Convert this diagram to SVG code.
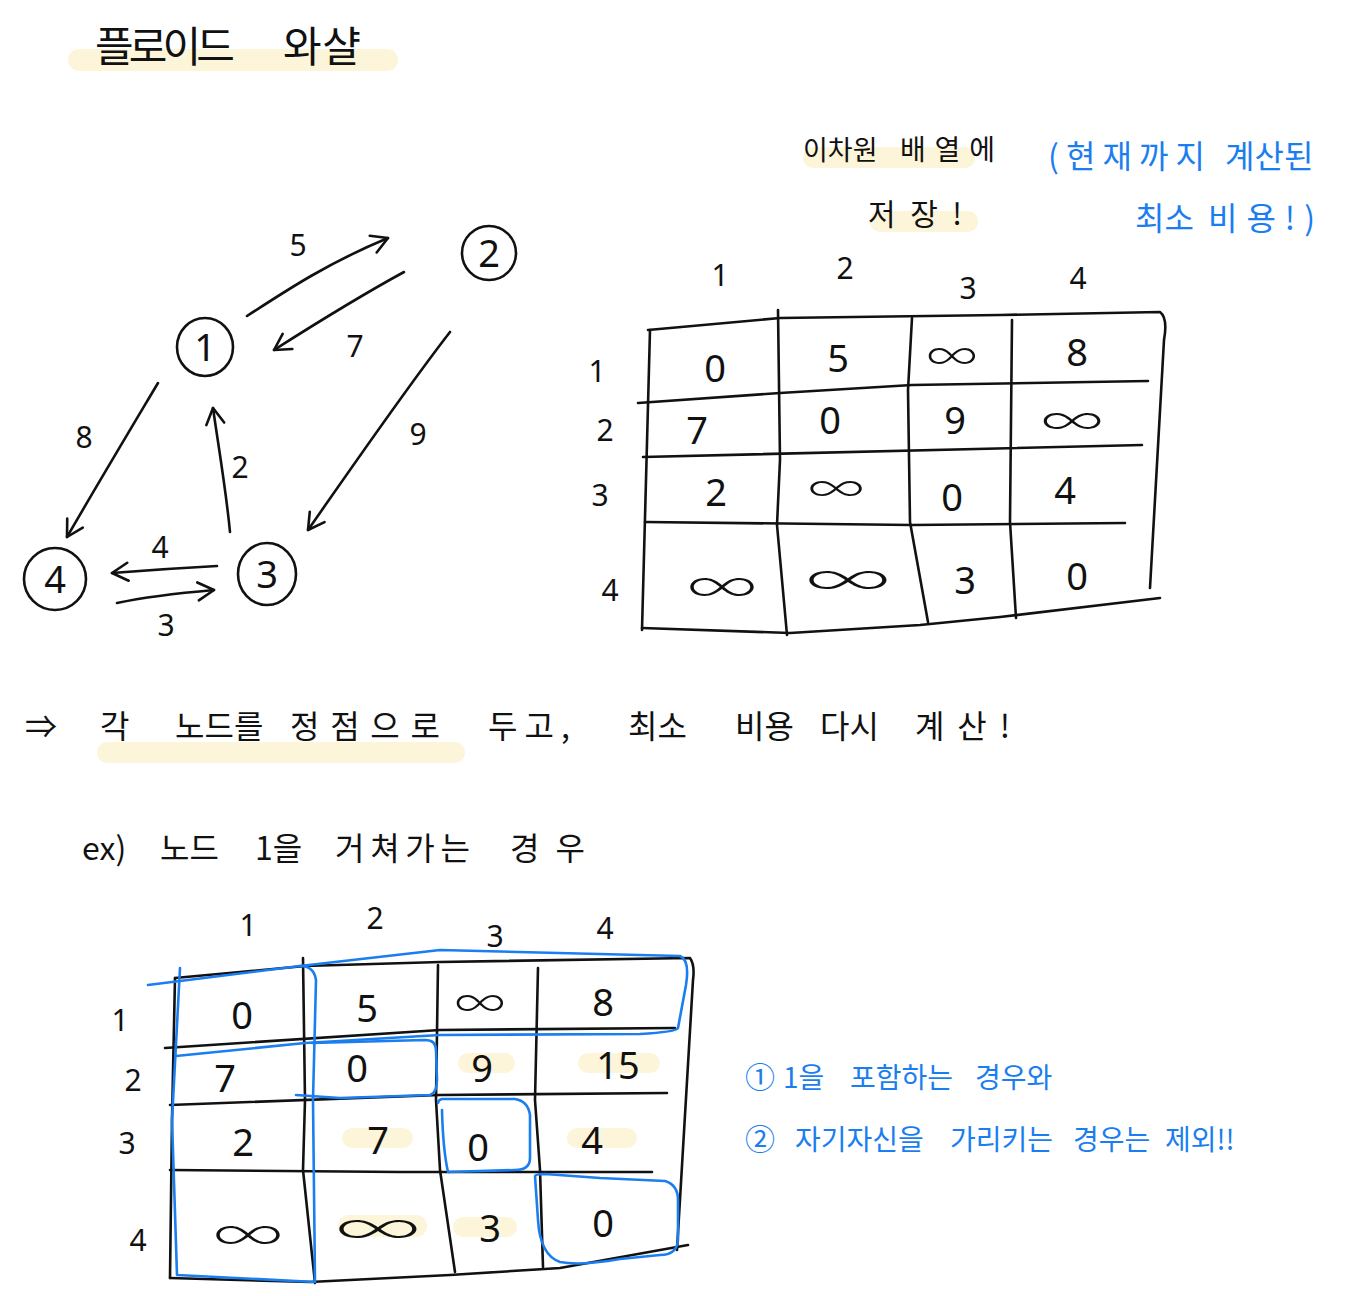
<svg xmlns="http://www.w3.org/2000/svg" width="1353" height="1296" viewBox="0 0 1353 1296">
<style>
.ink{fill:none;stroke:#111;stroke-width:2.6;stroke-linecap:round;stroke-linejoin:round}
.blue{fill:none;stroke:#1a7ef0;stroke-width:2.6;stroke-linecap:round;stroke-linejoin:round}
.hl{fill:#fdf5d9}
.kr{font-family:"Noto Sans CJK KR","Noto Sans",sans-serif;fill:#111}
.kb{font-family:"Noto Sans CJK KR","Noto Sans",sans-serif;fill:#1a7ef0}
.num{font-family:"Noto Sans","Liberation Sans",sans-serif;fill:#111;font-size:38px;text-anchor:middle}
.inf{font-family:"Inter","Noto Sans",sans-serif;font-weight:200;fill:#111;font-size:44px;text-anchor:middle}
.lab{font-family:"Noto Sans","Liberation Sans",sans-serif;fill:#111;font-size:30px;text-anchor:middle}
.node{font-family:"Noto Sans","Liberation Sans",sans-serif;fill:#111;font-size:38px;text-anchor:middle}
</style>
<defs>
<marker id="arr" viewBox="0 0 22 22" refX="19" refY="11" markerWidth="22" markerHeight="22" orient="auto" markerUnits="userSpaceOnUse">
<path d="M3,2 L19,11 L3,20" fill="none" stroke="#111" stroke-width="2.6" stroke-linecap="round" stroke-linejoin="round"/>
</marker>
</defs>
<rect width="1353" height="1296" fill="#ffffff"/>

<g id="highlights">
<rect class="hl" x="68" y="49" width="330" height="22" rx="11"/>
<rect class="hl" x="803" y="147" width="172" height="21" rx="10"/>
<rect class="hl" x="870" y="211" width="108" height="21" rx="10"/>
<rect class="hl" x="97" y="742" width="368" height="21" rx="10"/>
<rect class="hl" x="458" y="1053" width="57" height="20" rx="10"/>
<rect class="hl" x="578" y="1053" width="82" height="20" rx="10"/>
<rect class="hl" x="342" y="1128" width="71" height="20" rx="10"/>
<rect class="hl" x="567" y="1128" width="70" height="20" rx="10"/>
<rect class="hl" x="338" y="1215" width="89" height="22" rx="11"/>
<rect class="hl" x="453" y="1217" width="64" height="20" rx="10"/>
</g>

<g id="title">
<text class="kr" font-size="42" x="95" y="62" textLength="140">플로이드</text>
<text class="kr" font-size="42" x="283" y="62" textLength="78">와샬</text>
</g>
<g id="note-array">
<text class="kr" font-size="27" x="803" y="160">이차원</text>
<text class="kr" font-size="28" x="900" y="160" textLength="95">배열에</text>
<text class="kr" font-size="30" x="868" y="225" textLength="94">저장!</text>
</g>
<g id="note-blue">
<text class="kb" font-size="32" x="1048" y="168" textLength="157">(현재까지</text>
<text class="kb" font-size="32" x="1225" y="168">계산된</text>
<text class="kb" font-size="32" x="1135" y="230">최소</text>
<text class="kb" font-size="32" x="1208" y="230" textLength="107">비용!)</text>
</g>

<g id="node-1">
<ellipse class="ink" cx="205" cy="347" rx="28" ry="29"/>
<text class="node" x="205" y="361">1</text>
</g>
<g id="node-2">
<ellipse class="ink" cx="489" cy="253" rx="27" ry="27"/>
<text class="node" x="489" y="267">2</text>
</g>
<g id="node-3">
<ellipse class="ink" cx="267" cy="574" rx="29" ry="31"/>
<text class="node" x="267" y="588">3</text>
</g>
<g id="node-4">
<ellipse class="ink" cx="55" cy="579" rx="31" ry="31"/>
<text class="node" x="55" y="593">4</text>
</g>

<g id="connectors">
<path class="ink" d="M247,316 C290,288 330,262 388,238" marker-end="url(#arr)"/>
<path class="ink" d="M404,272 C360,296 318,322 274,350" marker-end="url(#arr)"/>
<path class="ink" d="M450,332 C405,390 350,470 308,530" marker-end="url(#arr)"/>
<path class="ink" d="M158,383 C130,430 100,480 67,537" marker-end="url(#arr)"/>
<path class="ink" d="M230,532 C226,490 219,450 213,408" marker-end="url(#arr)"/>
<path class="ink" d="M217,566 C180,568 150,570 112,573" marker-end="url(#arr)"/>
<path class="ink" d="M117,603 C150,596 180,593 214,590" marker-end="url(#arr)"/>
<text class="lab" x="298" y="256">5</text>
<text class="lab" x="355" y="357">7</text>
<text class="lab" x="418" y="445">9</text>
<text class="lab" x="84" y="448">8</text>
<text class="lab" x="240" y="478">2</text>
<text class="lab" x="160" y="558">4</text>
<text class="lab" x="166" y="636">3</text>
</g>

<g id="matrix-1">
<path class="ink" d="M648,330 L780,318 L1000,315 L1160,312 Q1168,318 1164,340 L1150,588"/>
<path class="ink" d="M650,330 L646,480 L642,630"/>
<path class="ink" d="M642,628 L790,633 L920,625 L1000,617 L1160,598"/>
<path class="ink" d="M778,310 L780,460 L777,525 L787,635"/>
<path class="ink" d="M912,318 L908,390 L910,522 L928,622"/>
<path class="ink" d="M1012,320 L1010,522 L1016,618"/>
<path class="ink" d="M638,403 L780,393 L912,385 L1148,381"/>
<path class="ink" d="M643,457 L1142,445"/>
<path class="ink" d="M645,522 L912,525 L1125,523"/>
<g class="lab">
<text x="720" y="286">1</text><text x="845" y="279">2</text><text x="968" y="299">3</text><text x="1078" y="289">4</text>
<text x="597" y="382">1</text><text x="605" y="441">2</text><text x="600" y="506">3</text><text x="610" y="601">4</text>
</g>
<g class="num">
<text x="715" y="382">0</text><text x="838" y="372">5</text><text x="1077" y="366">8</text>
<text x="697" y="444">7</text><text x="830" y="434">0</text><text x="955" y="434">9</text>
<text x="716" y="506">2</text><text x="952" y="511">0</text><text x="1065" y="504">4</text>
<text x="965" y="594">3</text><text x="1077" y="590">0</text>
</g>
<g class="inf">
<text transform="translate(952,355) scale(1.35,1)" y="15">∞</text>
<text transform="translate(1072,420) scale(1.65,1)" y="15">∞</text>
<text transform="translate(836,487) scale(1.5,1)" y="15">∞</text>
<text transform="translate(722,585) scale(1.85,1.1)" y="15">∞</text>
<text transform="translate(848,578) scale(2.25,1.1)" y="15">∞</text>
</g>
</g>

<g id="explain">
<text class="kr" font-size="32" x="25" y="738">⇒</text>
<text class="kr" font-size="32" x="100" y="738" textLength="40">각</text>
<text class="kr" font-size="32" x="175" y="738">노드를</text>
<text class="kr" font-size="32" x="290" y="738" textLength="150">정점으로</text>
<text class="kr" font-size="32" x="488" y="738" textLength="82">두고,</text>
<text class="kr" font-size="32" x="628" y="738">최소</text>
<text class="kr" font-size="32" x="735" y="738">비용</text>
<text class="kr" font-size="32" x="820" y="738">다시</text>
<text class="kr" font-size="32" x="915" y="738" textLength="95">계산!</text>
</g>
<g id="example">
<text class="kr" font-size="32" x="82" y="860">ex)</text>
<text class="kr" font-size="32" x="160" y="860">노드</text>
<text class="kr" font-size="32" x="255" y="860">1을</text>
<text class="kr" font-size="32" x="335" y="860" textLength="135">거쳐가는</text>
<text class="kr" font-size="32" x="510" y="860" textLength="75">경우</text>
</g>

<g id="matrix-2">
<path class="ink" d="M175,978 L305,966 L440,962 L690,958 Q695,965 693,980 L677,1250"/>
<path class="ink" d="M175,978 L172,1120 L170,1278"/>
<path class="ink" d="M170,1278 L310,1282 L450,1275 L560,1268 L688,1245"/>
<path class="ink" d="M303,958 L305,1100 L303,1170 L315,1283"/>
<path class="ink" d="M438,965 L436,1100 L440,1170 L455,1272"/>
<path class="ink" d="M538,968 L535,1100 L540,1170 L543,1267"/>
<path class="ink" d="M165,1048 L440,1030 L675,1028"/>
<path class="ink" d="M170,1105 L440,1095 L667,1093"/>
<path class="ink" d="M170,1170 L400,1172 L652,1172"/>
<g class="lab">
<text x="248" y="936">1</text><text x="375" y="929">2</text><text x="495" y="947">3</text><text x="605" y="939">4</text>
<text x="120" y="1031">1</text><text x="133" y="1091">2</text><text x="127" y="1154">3</text><text x="138" y="1251">4</text>
</g>
<g class="num">
<text x="242" y="1029">0</text><text x="367" y="1022">5</text><text x="603" y="1016">8</text>
<text x="225" y="1092">7</text><text x="357" y="1082">0</text><text x="482" y="1082">9</text><text x="618" y="1079">15</text>
<text x="243" y="1156">2</text><text x="378" y="1154">7</text><text x="478" y="1161">0</text><text x="592" y="1154">4</text>
<text x="490" y="1242">3</text><text x="603" y="1237">0</text>
</g>
<g class="inf">
<text transform="translate(480,1002) scale(1.35,1)" y="15">∞</text>
<text transform="translate(248,1233) scale(1.85,1.1)" y="15">∞</text>
<text transform="translate(378,1227) scale(2.25,1.1)" y="15">∞</text>
</g>
</g>

<g id="marks">
<path class="blue" d="M148,985 L300,966 L440,950 L680,956 Q690,960 686,985 L678,1028 Q676,1032 640,1034 L440,1035 L305,1043 L176,1056"/>
<path class="blue" d="M180,968 L172,1120 L177,1275 L315,1282 L313,1100 L316,980 Q314,966 300,966"/>
<path class="blue" d="M296,1095 L340,1098 L430,1095 Q437,1093 437,1080 L436,1050 Q436,1040 425,1040 L312,1043"/>
<path class="blue" d="M438,1103 Q438,1100 442,1099 L515,1099 Q528,1101 530,1115 L530,1158 Q530,1170 515,1170 L448,1172 Q443,1150 442,1110"/>
<path class="blue" d="M535,1176 Q536,1174 545,1174 L600,1178 L665,1181 Q678,1185 678,1200 L678,1240 Q677,1255 660,1255 L620,1259 Q580,1266 560,1262 Q540,1255 538,1220 L535,1176"/>
</g>

<g id="blue-notes">
<text class="kb" font-size="30" x="745" y="1088">①</text>
<text class="kb" font-size="28" x="783" y="1088">1을</text>
<text class="kb" font-size="28" x="850" y="1088">포함하는</text>
<text class="kb" font-size="28" x="975" y="1088">경우와</text>
<text class="kb" font-size="30" x="745" y="1150">②</text>
<text class="kb" font-size="28" x="795" y="1150">자기자신을</text>
<text class="kb" font-size="28" x="950" y="1150">가리키는</text>
<text class="kb" font-size="28" x="1073" y="1150">경우는</text>
<text class="kb" font-size="28" x="1165" y="1150">제외!!</text>
</g>
</svg>
